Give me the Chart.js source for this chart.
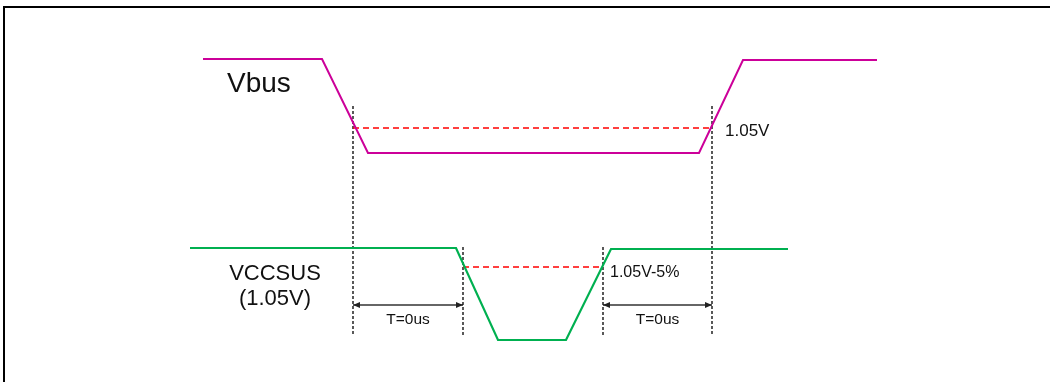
<!DOCTYPE html>
<html>
<head>
<meta charset="utf-8">
<script src="https://cdn.jsdelivr.net/npm/chart.js@4/dist/chart.umd.min.js"></script>
<style>
html,body{margin:0;padding:0;background:#fff;overflow:hidden}
#wrap{position:relative;width:1050px;height:382px}
canvas{display:block}
</style>
</head>
<body>
<div id="wrap"><canvas id="c" width="1050" height="382"></canvas></div>
<script>
// Timing-diagram data (time axis / level axis, in picture units)
const vbusT = [203, 322, 368, 699, 743, 877];
const vbusV = [59, 59, 153, 153, 60, 60];
const vccT = [190, 456, 498, 566, 611, 788];
const vccV = [248, 248, 340, 340, 249, 249];
const vbusRefT = [353, 712];
const vbusRefV = 128;
const vccRefT = [463, 603];
const vccRefV = 267;
const markerT = [353, 463, 603, 712];
const markerTop = [106, 247, 247, 106];
const markerBottom = 335;
const spanStart = [353, 603];
const spanEnd = [463, 712];
const spanV = [305, 305];
const spanLabels = ["T=0us", "T=0us"];
const signalNames = ["Vbus", "VCCSUS", "(1.05V)"];
const thresholdLabels = ["1.05V", "1.05V-5%"];

const pts = (xs, ys) => xs.map((x, i) => ({x, y: Array.isArray(ys) ? ys[i] : ys}));

const datasets = [];
datasets.push({data: pts(vbusT, vbusV), borderColor: '#CC0099', borderWidth: 2});
datasets.push({data: pts(vccT, vccV), borderColor: '#00B050', borderWidth: 2.2});
datasets.push({data: pts(vbusRefT, vbusRefV), borderColor: '#FF0000', borderWidth: 1.6, borderDash: [6, 4]});
datasets.push({data: pts(vccRefT, vccRefV), borderColor: '#FF0000', borderWidth: 1.6, borderDash: [6, 4]});
markerT.forEach((t, i) => {
  datasets.push({data: [{x: t, y: markerTop[i]}, {x: t, y: markerBottom}], borderColor: '#000', borderWidth: 1.3, borderDash: [3, 2]});
});
spanStart.forEach((s, i) => {
  datasets.push({
    data: [{x: s, y: spanV[i]}, {x: spanEnd[i], y: spanV[i]}],
    borderColor: '#333', borderWidth: 1.3, isSpan: true
  });
});
datasets.forEach(d => {
  d.showLine = true; d.fill = false; d.tension = 0; d.clip = false; d.pointRadius = 0;
});

const textPlugin = {
  id: 'texts',
  beforeDraw(chart) {
    const c = chart.ctx;
    c.save();
    c.fillStyle = '#fff';
    c.fillRect(0, 0, chart.width, chart.height);
    c.fillStyle = '#000';
    c.fillRect(3, 6, chart.width - 3, 2);
    c.fillRect(3, 6, 2, chart.height - 6);
    c.restore();
  },
  afterDatasetsDraw(chart) {
    const c = chart.ctx, xs = chart.scales.x, ys = chart.scales.y;
    const X = v => xs.getPixelForValue(v), Y = v => ys.getPixelForValue(v);
    c.save();
    // arrowheads at the ends of each span line (tips on the marker lines)
    c.fillStyle = '#222';
    chart.data.datasets.forEach((d, di) => {
      if (!d.isSpan) return;
      const el = chart.getDatasetMeta(di).data;
      const a = el[0], b = el[1];
      [[a, -1], [b, 1]].forEach(([p, dir]) => {
        c.beginPath();
        c.moveTo(p.x, p.y);
        c.lineTo(p.x - dir * 7, p.y - 3);
        c.lineTo(p.x - dir * 7, p.y + 3);
        c.closePath();
        c.fill();
      });
    });
    c.fillStyle = '#111';
    c.textBaseline = 'alphabetic';
    c.textAlign = 'left';
    c.font = '28px "Liberation Sans", Arial, sans-serif';
    c.fillText(signalNames[0], X(227), Y(92));
    c.textAlign = 'center';
    c.font = '22px "Liberation Sans", Arial, sans-serif';
    c.fillText(signalNames[1], X(275), Y(280));
    c.fillText(signalNames[2], X(275), Y(305));
    c.font = '15.5px "Liberation Sans", Arial, sans-serif';
    spanLabels.forEach((l, i) => {
      c.fillText(l, X((spanStart[i] + spanEnd[i]) / 2), Y(spanV[i] + 19));
    });
    c.textAlign = 'left';
    c.font = '17px "Liberation Sans", Arial, sans-serif';
    c.fillText(thresholdLabels[0], X(725), Y(136));
    c.font = '16px "Liberation Sans", Arial, sans-serif';
    c.fillText(thresholdLabels[1], X(610), Y(277));
    c.restore();
  }
};

new Chart(document.getElementById('c'), {
  type: 'scatter',
  data: {datasets},
  options: {
    responsive: false,
    animation: false,
    events: [],
    layout: {padding: 0, autoPadding: false},
    plugins: {legend: {display: false}, tooltip: {enabled: false}},
    scales: {
      x: {type: 'linear', min: 0, max: 1050, display: false},
      y: {type: 'linear', min: 0, max: 382, reverse: true, display: false}
    }
  },
  plugins: [textPlugin]
});
</script>
</body>
</html>
